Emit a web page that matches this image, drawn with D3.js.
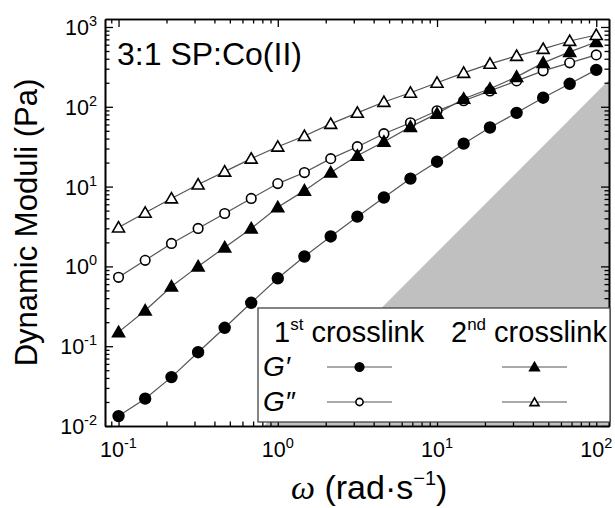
<!DOCTYPE html>
<html><head><meta charset="utf-8">
<script src="https://cdn.jsdelivr.net/npm/d3@7"></script>
<style>body{margin:0;background:#fff} svg{display:block} text{font-family:"Liberation Sans",Arial,sans-serif;fill:#000}</style>
</head><body><svg id="c" width="615" height="508"></svg>
<script>
// ---- data ----
const omega = [0.1,0.147,0.215,0.316,0.464,0.681,1,1.47,2.15,3.16,4.64,6.81,10,14.7,21.5,31.6,46.4,68.1,100];
const gPrime1 = [0.0133,0.022,0.041,0.084,0.17,0.35,0.71,1.33,2.37,4.2,7.3,12.6,20.5,34.5,55,84,130,194,290];
const gDouble1 = [0.73,1.19,1.94,2.99,4.6,7.1,10.9,15,22.4,31.6,46,63,89,119,158,211,282,355,447];
const gPrime2 = [0.15,0.28,0.56,1.0,1.73,2.99,5.5,8.9,15,24.4,36.5,56,82,126,168,237,355,487,649];
const gDouble2 = [3.07,4.7,7.1,10.6,15.4,22.4,31.6,43,61,84,115,150,200,266,345,434,531,668,794];
const shadeOmega = [0.816, 121];
const shadeG = [0.01, 220];
const xTickExp = [-1,0,1,2];
const yTickExp = [-2,-1,0,1,2,3];
const titleText = "3:1 SP:Co(II)";
const yTitle = "Dynamic Moduli (Pa)";

// ---- layout ----
const L=105,R=609,T=19,B=426;
const svg=d3.select("#c");
const x=d3.scaleLog().domain([Math.pow(10,-1.085),Math.pow(10,2.08)]).range([L,R]);
const y=d3.scaleLog().domain([0.01,Math.pow(10,3.1)]).range([B,T]);

svg.append("clipPath").attr("id","clip").append("rect").attr("x",L).attr("y",T).attr("width",R-L).attr("height",B-T);

// shaded region
svg.append("path").attr("clip-path","url(#clip)")
  .attr("d",d3.line()([[x(shadeOmega[0]),y(shadeG[0])],[x(shadeOmega[1]),y(shadeG[1])],[x(shadeOmega[1]),y(shadeG[0])]])+"Z")
  .attr("fill","#c0c0c0");

// series
const series=[
  {v:gPrime1,type:"circle",fill:"#000"},
  {v:gDouble1,type:"circle",fill:"#fff"},
  {v:gPrime2,type:"tri",fill:"#000"},
  {v:gDouble2,type:"tri",fill:"#fff"}
];
const line=d3.line().x((d,i)=>x(omega[i])).y(d=>y(d));
series.forEach(s=>{
  svg.append("path").attr("d",line(s.v)).attr("fill","none").attr("stroke","#555").attr("stroke-width",1.2);
});
function drawMarker(g,type,fill,cx,cy,scale){
  if(type==="circle"){
    g.append("circle").attr("cx",cx).attr("cy",cy).attr("r",(fill==="#000"?5.4:4.8)*scale)
      .attr("fill",fill).attr("stroke","#000").attr("stroke-width",1.6);
  } else {
    g.append("path").attr("transform",`translate(${cx},${cy+1})`)
      .attr("d",d3.symbol(d3.symbolTriangle,62*scale*scale)())
      .attr("fill",fill).attr("stroke","#000").attr("stroke-width",1.6);
  }
}
series.forEach(s=>{
  const g=svg.append("g");
  s.v.forEach((d,i)=>drawMarker(g,s.type,s.fill,x(omega[i]),y(d),1));
});

// axes
function minorTicks(lo,hi){const a=[];for(let e=lo;e<=hi;e++)for(let k=2;k<=9;k++)a.push(k*Math.pow(10,e));return a;}
const xMaj=xTickExp.map(e=>Math.pow(10,e)), yMaj=yTickExp.map(e=>Math.pow(10,e));
const xMin=minorTicks(-2,2).filter(v=>v>x.domain()[0]&&v<x.domain()[1]);
const yMin=minorTicks(-2,3).filter(v=>v>y.domain()[0]&&v<y.domain()[1]);
function axisPair(axisFn,scale,maj,min,transform){
  const g1=svg.append("g").attr("transform",transform).call(axisFn(scale).tickValues(maj).tickSizeInner(-8).tickSizeOuter(0).tickFormat(""));
  const g2=svg.append("g").attr("transform",transform).call(axisFn(scale).tickValues(min).tickSizeInner(-4.5).tickSizeOuter(0).tickFormat(""));
  [g1,g2].forEach(g=>{g.selectAll("line").attr("stroke","#000").attr("stroke-width",1.3);g.select(".domain").attr("stroke","#000").attr("stroke-width",1.6);});
}
axisPair(d3.axisBottom,x,xMaj,xMin,`translate(0,${B})`);
axisPair(d3.axisTop,x,xMaj,xMin,`translate(0,${T})`);
axisPair(d3.axisLeft,y,yMaj,yMin,`translate(${L},0)`);
axisPair(d3.axisRight,y,yMaj,yMin,`translate(${R},0)`);

// tick labels
xTickExp.forEach(e=>{
  const t=svg.append("text").attr("x",x(Math.pow(10,e))).attr("y",457).attr("text-anchor","middle").attr("font-size",21.5);
  t.append("tspan").text("10");
  t.append("tspan").attr("dy",-9).attr("font-size",14.5).text(e<0?"-"+(-e):String(e));
});
yTickExp.forEach(e=>{
  const t=svg.append("text").attr("x",97).attr("y",y(Math.pow(10,e))+8).attr("text-anchor","end").attr("font-size",21.5);
  t.append("tspan").text("10");
  t.append("tspan").attr("dy",-9).attr("font-size",14.5).text(e<0?"-"+(-e):String(e));
});

// title
svg.append("text").attr("x",117).attr("y",65).attr("font-size",32).text(titleText);

// axis titles
svg.append("text").attr("transform",`translate(37,${(T+B)/2}) rotate(-90)`).attr("text-anchor","middle").attr("font-size",31).text(yTitle);
const xt=svg.append("text").attr("x",291).attr("y",499).attr("font-size",34);
xt.append("tspan").attr("font-family","Liberation Serif,serif").attr("font-style","italic").text("ω");
xt.append("tspan").text(" (rad·s");
xt.append("tspan").attr("dy",-14).attr("font-size",20).text("−1");
xt.append("tspan").attr("dy",14).text(")");

// legend
const lg=svg.append("g");
lg.append("rect").attr("x",258).attr("y",308).attr("width",352).attr("height",114).attr("fill","#fff").attr("stroke","#444").attr("stroke-width",1.3);
function headText(xp,num,sup){
  const t=lg.append("text").attr("x",xp).attr("y",342).attr("font-size",29);
  t.append("tspan").text(num);
  t.append("tspan").attr("dy",-12).attr("font-size",17).text(sup);
  t.append("tspan").attr("dy",12).text(" crosslink");
}
headText(274,"1","st");
headText(451,"2","nd");
lg.append("text").attr("x",263).attr("y",376).attr("font-size",28).attr("font-style","italic").text("G′");
lg.append("text").attr("x",263).attr("y",411).attr("font-size",28).attr("font-style","italic").text("G″");
const legRows=[
  {y:367,x0:327,x1:392,type:"circle",fill:"#000"},
  {y:402,x0:327,x1:392,type:"circle",fill:"#fff"},
  {y:367,x0:502,x1:567,type:"tri",fill:"#000"},
  {y:402,x0:502,x1:567,type:"tri",fill:"#fff"}
];
legRows.forEach(r=>{
  lg.append("line").attr("x1",r.x0).attr("x2",r.x1).attr("y1",r.y).attr("y2",r.y).attr("stroke","#555").attr("stroke-width",1.2);
  drawMarker(lg,r.type,r.fill,(r.x0+r.x1)/2,r.y,r.fill==="#000"?0.8:0.75);
});
</script></body></html>
